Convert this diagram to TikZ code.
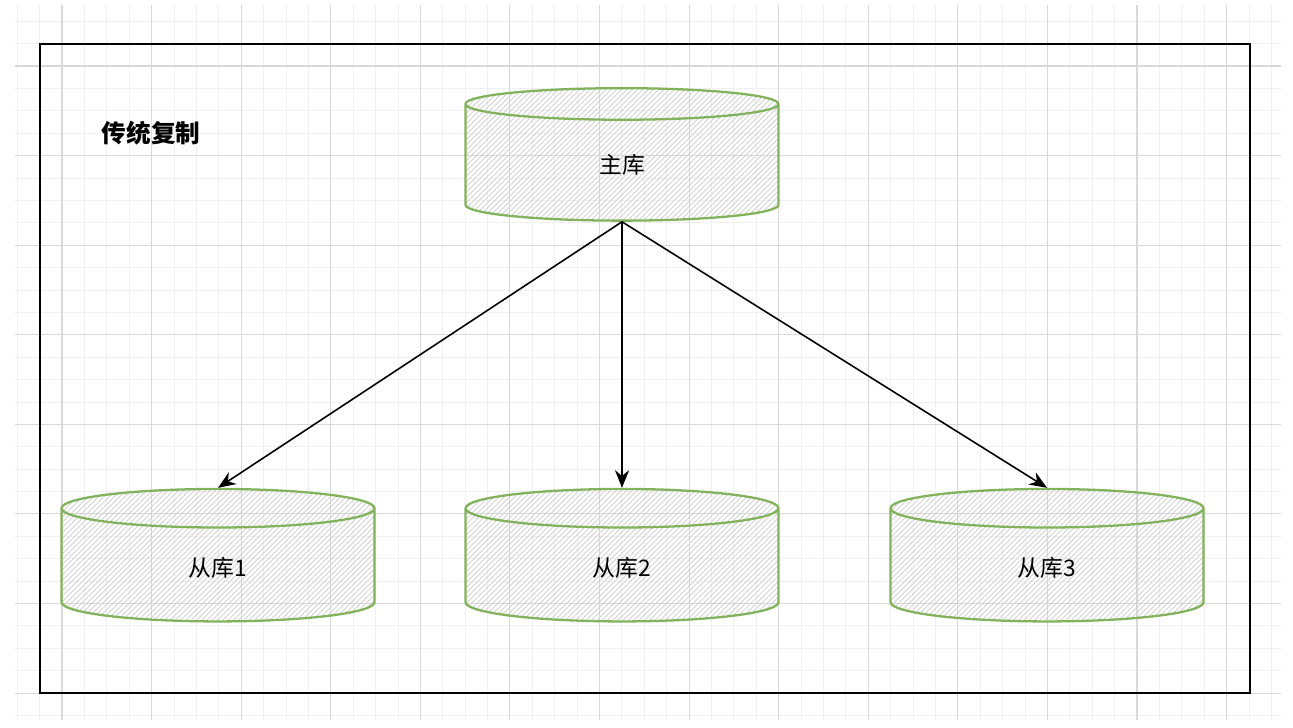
\documentclass[tikz,border=0pt]{standalone}
\usepackage{fontspec}
\setmainfont{Noto Sans CJK SC}
\usetikzlibrary{shapes.geometric, patterns, arrows.meta}

\definecolor{dbgreen}{RGB}{130,179,92}
\tikzset{
  db/.style={cylinder, shape border rotate=90, aspect=0.55, draw=dbgreen, line width=1.3pt,
    pattern=north east lines, pattern color=black!20, minimum width=6.26cm, minimum height=2.65cm, font=\fontsize{13}{15}\selectfont},
  link/.style={-{Stealth[length=10pt,width=8pt]}, line width=0.9pt}
}

\begin{document}
\begin{tikzpicture}[x=0.02cm, y=-0.02cm]
        \useasboundingbox (0,0) rectangle (1293,727);

        % grid
        \begin{scope}[shift={(62,66)}]
            \draw[black!6, line width=0.5pt] (-47,-61) grid[step=0.448cm] (1219,654);
            \draw[black!15, line width=0.6pt] (-47,-61) grid[step=1.792cm] (1219,654);
        \end{scope}

        \draw[line width=1.4pt] (40,44) rectangle (1250,693);
        \node[font=\fontsize{14}{16}\selectfont\bfseries] (title) at (151,133) {传统复制};

        \node[db] (master) at (622,165) {主库};
        \node[db] (s1) at (218,568) {从库1};
        \node[db] (s2) at (622,568) {从库2};
        \node[db] (s3) at (1047,568) {从库3};

        \draw[link] (master.south) -- (s1.north);
        \draw[link] (master.south) -- (s2.north);
        \draw[link] (master.south) -- (s3.north);
    \end{tikzpicture}
\end{document}
